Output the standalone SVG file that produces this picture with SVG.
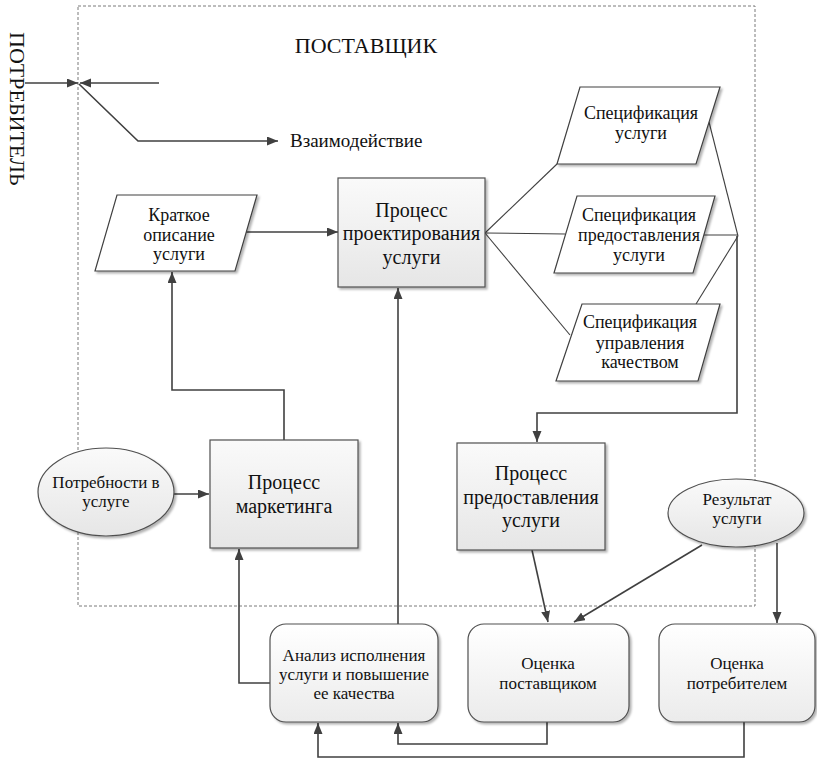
<svg xmlns="http://www.w3.org/2000/svg" width="817" height="760" viewBox="0 0 817 760" font-family="'Liberation Serif', 'Times New Roman', serif">
<defs>
  <linearGradient id="gBox" x1="0" y1="0" x2="0" y2="1">
    <stop offset="0" stop-color="#fafafa"/>
    <stop offset="1" stop-color="#e6e6e6"/>
  </linearGradient>
  <linearGradient id="gRound" x1="0" y1="0" x2="0" y2="1">
    <stop offset="0" stop-color="#ffffff"/>
    <stop offset="1" stop-color="#ebebeb"/>
  </linearGradient>
  <filter id="sh" x="-10%" y="-10%" width="130%" height="130%">
    <feDropShadow dx="2" dy="2" stdDeviation="1" flood-color="#000" flood-opacity="0.3"/>
  </filter>
  <marker id="arr" markerUnits="userSpaceOnUse" markerWidth="12" markerHeight="10" refX="11" refY="4.5" orient="auto">
    <path d="M0,0 L11,4.5 L0,9 z" fill="#404040"/>
  </marker>
</defs>
<style>
  text { font-family: "Liberation Serif", "Times New Roman", serif; fill: #111; text-anchor: middle; }
  .s { font-size: 17px; }
  .p { font-size: 18px; }
  .m { font-size: 20px; }
  .l { font-size: 22px; }
  .box { fill: url(#gBox); stroke: #505050; stroke-width: 1.2; filter: url(#sh); }
  .rnd { fill: url(#gRound); stroke: #505050; stroke-width: 1.2; filter: url(#sh); }
  .ell { fill: url(#gBox); stroke: #505050; stroke-width: 1.2; filter: url(#sh); }
  .par { fill: #ffffff; stroke: #404040; stroke-width: 1.2; filter: url(#sh); }
  .c { fill: none; stroke: #404040; stroke-width: 1.6; }
  .f { fill: none; stroke: #404040; stroke-width: 1.1; }
  .a { marker-end: url(#arr); }
</style>

<rect id="frame" x="78" y="6" width="677" height="600" fill="none" stroke="#7a7a7a" stroke-width="1" stroke-dasharray="3,2"/>

<text class="l" transform="translate(10,32) rotate(90)" style="text-anchor:start">ПОТРЕБИТЕЛЬ</text>
<text class="l" x="366" y="53">ПОСТАВЩИК</text>
<text x="290" y="147" style="text-anchor:start;font-size:19px">Взаимодействие</text>

<g id="connectors">
  <path class="c a" d="M25,83 H78"/>
  <path class="c a" d="M159,83 H80"/>
  <path class="c a" d="M79,84 L138,141 H278"/>
  <path class="c a" d="M245,232 H338"/>
  <path class="f" d="M485,233 L557,164"/>
  <path class="f" d="M485,233 L565,234"/>
  <path class="f" d="M485,233 L570,335"/>
  <path class="f" d="M709,122 L738,236"/>
  <path class="f" d="M704,235 H738"/>
  <path class="f" d="M696,304 L738,236"/>
  <path class="c a" d="M737,236 V413 H537 V442"/>
  <path class="c a" d="M284,440 V390 H172 V272"/>
  <path class="c a" d="M174,494 H209"/>
  <path class="c a" d="M270,683 H239 V549"/>
  <path class="c a" d="M398,624 V288"/>
  <path class="c a" d="M532,550 L548,622"/>
  <path class="c a" d="M702,545 L574,622"/>
  <path class="c a" d="M777,543 V623"/>
  <path class="c a" d="M547,722 V744 H398 V723"/>
  <path class="c a" d="M744,722 V757 H318 V723"/>
</g>

<g id="kratkoe">
  <polygon class="par" points="117,195 257,195 235,271 95,271"/>
  <text class="p" x="179" y="221">Краткое</text>
  <text class="p" x="179" y="241">описание</text>
  <text class="p" x="179" y="260">услуги</text>
</g>

<g id="proc-proekt">
  <rect class="box" x="338" y="178" width="147" height="109"/>
  <text class="m" x="411.5" y="217">Процесс</text>
  <text class="m" x="411.5" y="240">проектирования</text>
  <text class="m" x="411.5" y="264">услуги</text>
</g>

<g id="spec1">
  <polygon class="par" points="580,87 720,87 696,164 557,164"/>
  <text class="p" x="641" y="119">Спецификация</text>
  <text class="p" x="641" y="139">услуги</text>
</g>

<g id="spec2">
  <polygon class="par" points="577,196 715,196 693,273 554,273"/>
  <text class="p" x="639" y="221">Спецификация</text>
  <text class="p" x="639" y="241">предоставления</text>
  <text class="p" x="639" y="261">услуги</text>
</g>

<g id="spec3">
  <polygon class="par" points="582,304 720,304 698,381 556,381"/>
  <text class="p" x="640" y="328">Спецификация</text>
  <text class="p" x="640" y="349">управления</text>
  <text class="p" x="640" y="368">качеством</text>
</g>

<g id="potrebnosti">
  <ellipse class="ell" cx="106" cy="492" rx="68" ry="44"/>
  <text class="s" x="106" y="488">Потребности в</text>
  <text class="s" x="106" y="507">услуге</text>
</g>

<g id="marketing">
  <rect class="box" x="210" y="440" width="148" height="108"/>
  <text class="m" x="284" y="489">Процесс</text>
  <text class="m" x="284" y="513">маркетинга</text>
</g>

<g id="proc-predost">
  <rect class="box" x="457" y="443" width="148" height="107"/>
  <text class="m" x="531" y="480">Процесс</text>
  <text class="m" x="531" y="504">предоставления</text>
  <text class="m" x="531" y="527">услуги</text>
</g>

<g id="result">
  <ellipse class="ell" cx="736" cy="513" rx="68" ry="34"/>
  <text class="s" x="737" y="505">Результат</text>
  <text class="s" x="737" y="524">услуги</text>
</g>

<g id="analiz">
  <rect class="rnd" x="270" y="624" width="168" height="98" rx="16" ry="16"/>
  <text class="s" x="354" y="661">Анализ исполнения</text>
  <text class="s" x="354" y="680">услуги и повышение</text>
  <text class="s" x="354" y="699">ее качества</text>
</g>

<g id="ocenka-post">
  <rect class="rnd" x="468" y="624" width="161" height="98" rx="16" ry="16"/>
  <text class="s" x="548" y="669">Оценка</text>
  <text class="s" x="548" y="689">поставщиком</text>
</g>

<g id="ocenka-potr">
  <rect class="rnd" x="659" y="624" width="156" height="98" rx="16" ry="16"/>
  <text class="s" x="737" y="669">Оценка</text>
  <text class="s" x="737" y="689">потребителем</text>
</g>
</svg>
